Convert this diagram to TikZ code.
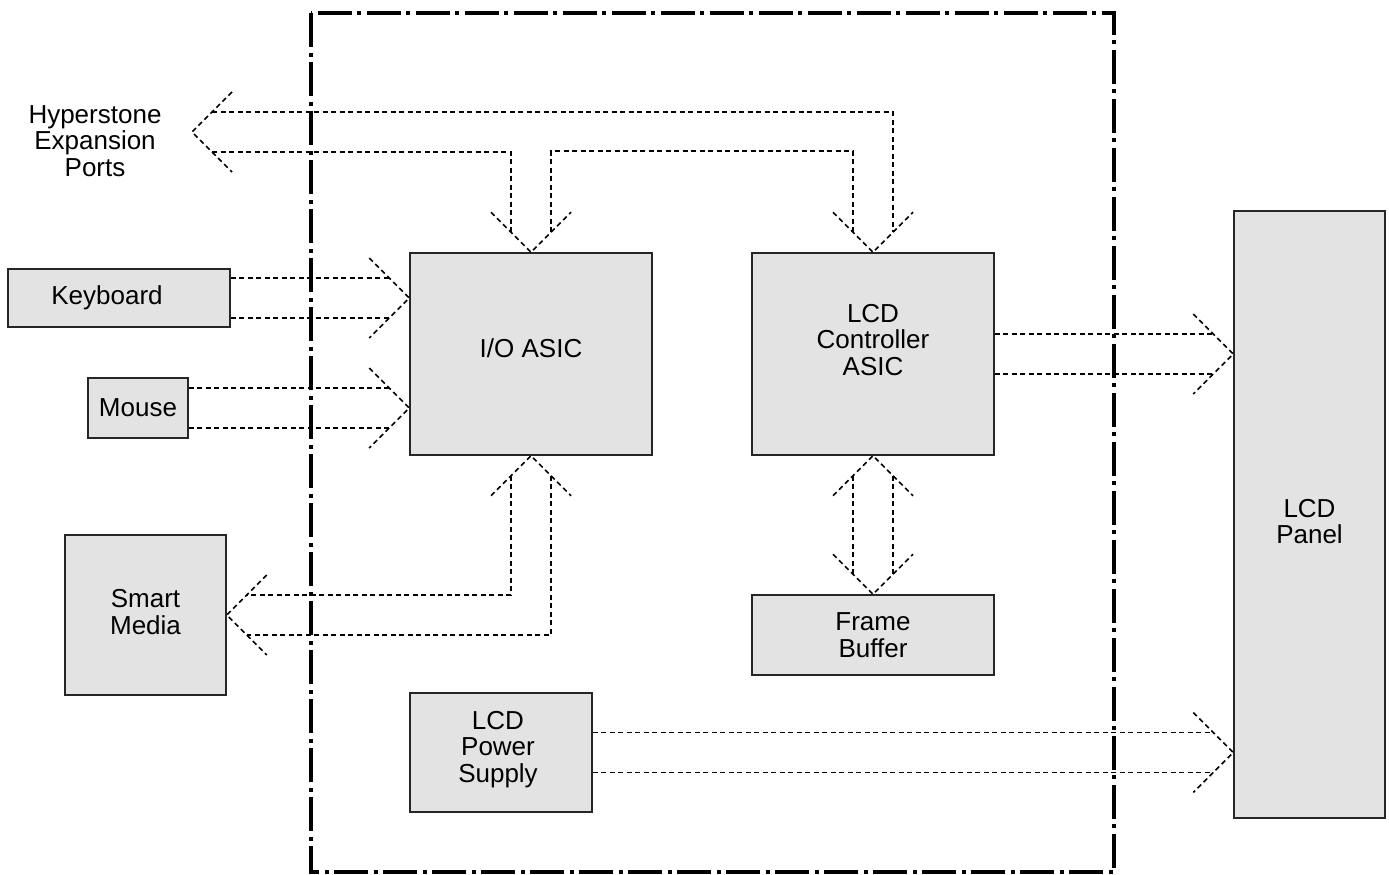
\documentclass[tikz,border=0pt]{standalone}
\usepackage{fontspec}
\setmainfont{Liberation Sans}
\usetikzlibrary{calc}
\tikzset{
    unit box/.style = {
        draw = black!85,
        line width = 1.5pt,
        fill = gray!22,
        inner sep = 0pt,
        align = center
    },
    bus/.style = {
        line width = 1.6pt,
        dash pattern = on 5pt off 3.5pt
    },
    board/.style = {
        line width = 4pt,
        dash pattern = on 34pt off 6pt on 4pt off 5pt
    }
}

\begin{document}
\begin{tikzpicture}[x=1pt, y=-1pt, every node/.style = {font=\fontsize{26}{26.5}\selectfont}]
        \useasboundingbox (0,0) rectangle (1389,875);

        % board outline
        \draw[board] (311,13) rectangle (1114,872);

        % units
        \node[unit box, minimum width=222pt, minimum height=58pt,
              label={[xshift=-12pt]center:Keyboard}] (kbd) at (119,298) {};
        \node[unit box, minimum width=100pt, minimum height=60pt] (mouse) at (138,408) {Mouse};
        \node[unit box, minimum width=161pt, minimum height=160pt,
              label={[align=center, yshift=3pt]center:Smart\\Media}] (media) at (145.5,615) {};
        \node[unit box, minimum width=242pt, minimum height=202pt,
              label={[yshift=6pt]center:I/O ASIC}] (io) at (531,354) {};
        \node[unit box, minimum width=242pt, minimum height=202pt,
              label={[align=center, yshift=14pt]center:LCD\\Controller\\ASIC}] (lcdc) at (873,354) {};
        \node[unit box, minimum width=242pt, minimum height=80pt] (fb) at (873,635) {Frame\\Buffer};
        \node[unit box, minimum width=182pt, minimum height=119pt,
              label={[align=center, yshift=3pt, xshift=-3pt]center:LCD\\Power\\Supply}] (psu) at (501,752.5) {};
        \node[unit box, minimum width=151pt, minimum height=607pt,
              label={[align=center, yshift=-7pt]center:LCD\\Panel}] (panel) at (1309.5,514.5) {};
        \node[align=center] (hyper) at (95,141) {Hyperstone\\Expansion\\Ports};

        \coordinate (hx) at (192,132);
        \coordinate (kbd in) at (io.west |- kbd.east);
        \coordinate (mouse in) at (io.west |- mouse.east);
        \coordinate (lcd in) at (panel.west |- lcdc.east);
        \coordinate (pwr in) at (panel.west |- psu.east);

        % expansion ports bus
        \draw[bus] (hx) ++(40,-40) -- (hx) -- ++(40,40);
        \draw[bus] ($(hx)+(20,-20)$) -| ($(lcdc.north)+(20,-20)$);
        \draw[bus] ($(hx)+(20,20)$) -| ($(io.north)+(-20,-20)$);
        \draw[bus] ($(io.north)+(20,-20)$) -- ++(0,-81) -| ($(lcdc.north)+(-20,-20)$);
        \draw[bus] (io.north) ++(-40,-40) -- (io.north) -- ++(40,-40);
        \draw[bus] (lcdc.north) ++(-40,-40) -- (lcdc.north) -- ++(40,-40);

        % keyboard and mouse
        \draw[bus] ($(kbd.east)+(0,-20)$) -- ($(kbd in)+(-20,-20)$);
        \draw[bus] ($(kbd.east)+(0,20)$) -- ($(kbd in)+(-20,20)$);
        \draw[bus] (kbd in) ++(-40,-40) -- (kbd in) -- ++(-40,40);
        \draw[bus] ($(mouse.east)+(0,-20)$) -- ($(mouse in)+(-20,-20)$);
        \draw[bus] ($(mouse.east)+(0,20)$) -- ($(mouse in)+(-20,20)$);
        \draw[bus] (mouse in) ++(-40,-40) -- (mouse in) -- ++(-40,40);

        % smart media
        \draw[bus] ($(io.south)+(-20,20)$) |- ($(media.east)+(20,-20)$);
        \draw[bus] ($(io.south)+(20,20)$) |- ($(media.east)+(20,20)$);
        \draw[bus] (io.south) ++(-40,40) -- (io.south) -- ++(40,40);
        \draw[bus] (media.east) ++(40,-40) -- (media.east) -- ++(40,40);

        % frame buffer
        \draw[bus] ($(lcdc.south)+(-20,20)$) -- ($(fb.north)+(-20,-20)$);
        \draw[bus] ($(lcdc.south)+(20,20)$) -- ($(fb.north)+(20,-20)$);
        \draw[bus] (lcdc.south) ++(-40,40) -- (lcdc.south) -- ++(40,40);
        \draw[bus] (fb.north) ++(-40,-40) -- (fb.north) -- ++(40,-40);

        % lcd panel
        \draw[bus] ($(lcdc.east)+(0,-20)$) -- ($(lcd in)+(-20,-20)$);
        \draw[bus] ($(lcdc.east)+(0,20)$) -- ($(lcd in)+(-20,20)$);
        \draw[bus] (lcd in) ++(-40,-40) -- (lcd in) -- ++(-40,40);
        \draw[bus] ($(psu.east)+(0,-20)$) -- ($(pwr in)+(-20,-20)$);
        \draw[bus] ($(psu.east)+(0,20)$) -- ($(pwr in)+(-20,20)$);
        \draw[bus] (pwr in) ++(-40,-40) -- (pwr in) -- ++(-40,40);

    \end{tikzpicture}
\end{document}
